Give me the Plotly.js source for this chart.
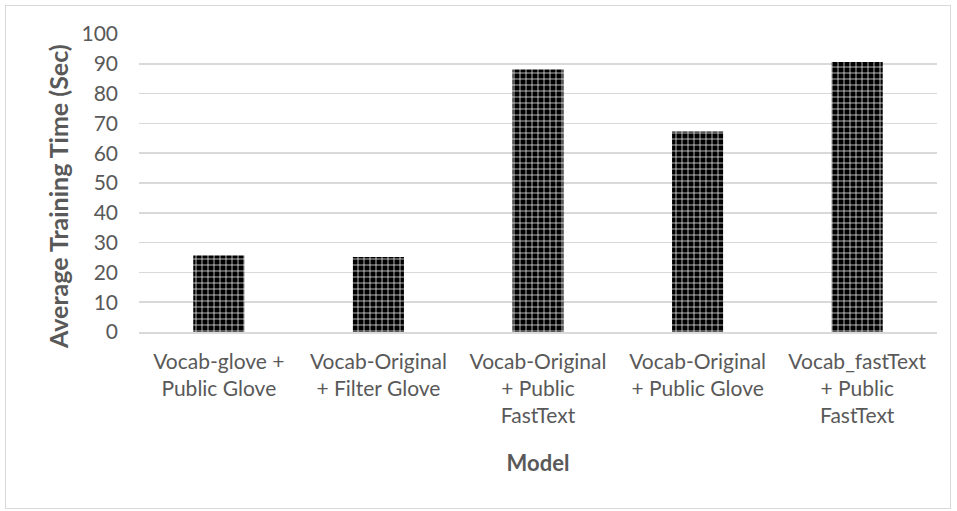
<!DOCTYPE html>
<html>
<head>
<meta charset="utf-8">
<script src="https://cdn.plot.ly/plotly-3.0.1.min.js"></script>
<style>
  html, body { margin: 0; padding: 0; background: #ffffff; }
  #wrap { position: relative; width: 957px; height: 511px; }
  #chart { position: absolute; left: 0; top: 0; width: 957px; height: 511px; }
  #frame { position: absolute; left: 5px; top: 5px; width: 944px; height: 502px;
           border: 1.5px solid #d9d9d9; pointer-events: none; }
</style>
</head>
<body>
<div id="wrap">
  <div id="chart"></div>
  <div id="frame"></div>
</div>
<script>
// Model configurations (category labels, wrapped as on the axis)
const models = [
  "Vocab-glove +<br>Public Glove",
  "Vocab-Original<br>+ Filter Glove",
  "Vocab-Original<br>+ Public<br>FastText",
  "Vocab-Original<br>+ Public Glove",
  "Vocab_fastText<br>+ Public<br>FastText"
];

// Average training time per model, in seconds
const trainingTimeSec = [25.7, 25.2, 88.1, 67.3, 90.6];

// Y axis ticks
const yTicks = [0, 10, 20, 30, 40, 50, 60, 70, 80, 90, 100];

const FONT = "Lato, 'Open Sans', 'DejaVu Sans', sans-serif";
const GREY = "#595959";

const trace = {
  type: "bar",
  x: models,
  y: trainingTimeSec,
  marker: {
    color: "#000000",
    line: { width: 0 },
    pattern: {
      shape: "+",
      fillmode: "replace",
      bgcolor: "#000000",
      fgcolor: "#ffffff",
      size: 6,
      solidity: 0.22
    }
  },
  hoverinfo: "skip"
};

const layout = {
  width: 957,
  height: 511,
  margin: { l: 139, r: 20, t: 34, b: 179 },
  paper_bgcolor: "#ffffff",
  plot_bgcolor: "#ffffff",
  showlegend: false,
  bargap: 0.68,
  font: { family: FONT, color: GREY, size: 21 },
  xaxis: {
    type: "category",
    showgrid: false,
    showline: true,
    linecolor: "#d9d9d9",
    linewidth: 1.5,
    ticks: "",
    tickfont: { family: FONT, size: 21, color: GREY },
    ticklabelstandoff: 10,
    title: {
      text: "<b>Model</b>",
      font: { family: FONT, size: 22, color: GREY },
      standoff: 29
    }
  },
  yaxis: {
    range: [0, 100],
    tickvals: yTicks,
    ticktext: yTicks.map(String),
    showgrid: true,
    gridcolor: "#d9d9d9",
    gridwidth: 1.5,
    zeroline: false,
    showline: false,
    ticks: "",
    tickfont: { family: FONT, size: 21, color: GREY },
    ticklabelstandoff: 20
  },
  // vertical axis title, placed left of the tick labels
  annotations: [{
    text: "<b>Average Training Time (Sec)</b>",
    textangle: -90,
    xref: "paper",
    yref: "paper",
    x: -0.1015,
    y: 0.453,
    xanchor: "center",
    yanchor: "middle",
    showarrow: false,
    font: { family: FONT, size: 25, color: GREY }
  }]
};

Plotly.newPlot("chart", [trace], layout, { displayModeBar: false, staticPlot: true });
</script>
</body>
</html>
